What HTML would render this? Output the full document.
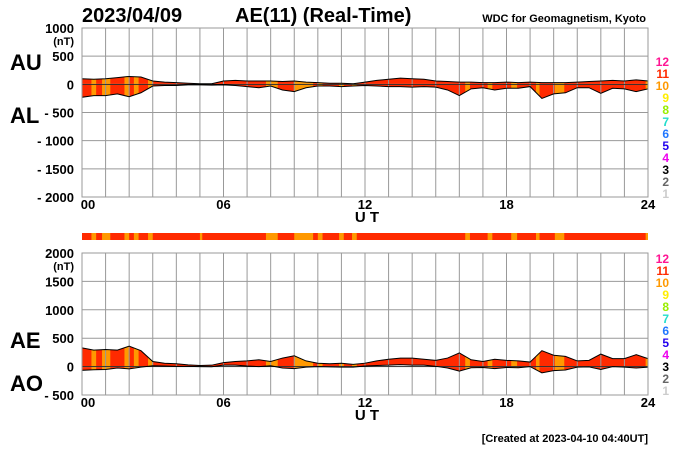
<!DOCTYPE html>
<html><head><meta charset="utf-8"><style>
body{margin:0;background:#fff;}
svg{display:block;font-family:"Liberation Sans",sans-serif;}
</style></head><body>
<svg id="c" width="700" height="450"></svg>
<script>
const hours=[0,0.5,1,1.5,2,2.5,3,3.5,4,4.5,5,5.5,6,6.5,7,7.5,8,8.5,9,9.5,10,10.5,11,11.5,12,12.5,13,13.5,14,14.5,15,15.5,16,16.5,17,17.5,18,18.5,19,19.5,20,20.5,21,21.5,22,22.5,23,23.5,24];
const auValues=[100,90,100,120,140,130,60,40,30,20,10,10,60,70,60,60,60,50,60,40,30,20,20,10,40,70,90,110,100,90,60,50,40,40,30,30,40,30,40,30,30,30,40,50,60,70,60,80,60];
const alValues=[-230,-200,-200,-170,-220,-150,-30,-20,-20,-10,-10,-15,-10,-20,-40,-60,-30,-100,-130,-60,-30,-30,-40,-30,-20,-30,-40,-40,-50,-40,-50,-100,-200,-80,-60,-100,-70,-70,-40,-250,-170,-150,-60,-60,-160,-70,-80,-130,-80];
const orangeStart=[0.4,0.85,1.8,2.2,2.8,5.0,7.8,9.0,10.0,10.9,11.45,16.25,17.2,18.2,19.25,20.05,23.9];
const orangeEnd=[0.6,1.2,2.0,2.4,3.0,5.1,8.3,9.8,10.2,11.1,11.65,16.45,17.4,18.45,19.4,20.45,24];
const topTicks=["1000","500","0","- 500","- 1000","- 1500","- 2000"];
const botTicks=["2000","1500","1000","500","0","- 500"];
const xTicks=["00","06","12","18","24"];
const legendNums=["12","11","10","9","8","7","6","5","4","3","2","1"];
const legendCols=["#ff1493","#ff2a00","#ff9900","#ffee00","#99ee00","#22ddcc","#2277ff","#2200ee","#ee00ee","#000","#666","#ccc"];

const NS="http://www.w3.org/2000/svg",svg=document.getElementById('c');
function el(t,a,p){const e=document.createElementNS(NS,t);for(const k in a)e.setAttribute(k,a[k]);(p||svg).appendChild(e);return e;}
function txt(s,x,y,size,anchor,fill,weight){const e=el('text',{x:x,y:y,'font-size':size,'text-anchor':anchor||'start',fill:fill||'#000','font-weight':weight||'bold'});e.textContent=s;return e;}
const X0=82,X1=648;
const xs=h=>X0+(X1-X0)*h/24;
const aeValues=auValues.map((u,i)=>u-alValues[i]);
const aoValues=auValues.map((u,i)=>(u+alValues[i])/2);

function panel(name,yTop,yBot,vmax,vmin,ticks,upper,lower){
  const ys=v=>yTop+(vmax-v)/(vmax-vmin)*(yBot-yTop);
  const g=el('g',{});
  
  
  const cid=name+'-clip';
  const cp=el('clipPath',{id:cid},g);
  let d='M'+xs(hours[0])+','+ys(upper[0]);
  for(let i=1;i<hours.length;i++)d+='L'+xs(hours[i])+','+ys(upper[i]);
  for(let i=hours.length-1;i>=0;i--)d+='L'+xs(hours[i])+','+ys(lower[i]);
  d+='Z';
  el('path',{d:d},cp);
  const fg=el('g',{'clip-path':'url(#'+cid+')'},g);
  const base=el('rect',{x:X0,y:yTop,width:X1-X0,height:yBot-yTop,fill:'#ff2a00'},fg);
  
  
  for(let i=0;i<orangeStart.length;i++){
    const r=el('rect',{x:xs(orangeStart[i]),y:yTop,width:xs(orangeEnd[i])-xs(orangeStart[i]),height:yBot-yTop,fill:'#ff9900'},fg);
    
    
  }
  for(let h=0;h<=24;h++)el('line',{x1:xs(h),x2:xs(h),y1:yTop,y2:yBot,stroke:'#999','stroke-width':1},g);
  ticks.forEach((t,i)=>{const y=yTop+i*(yBot-yTop)/(ticks.length-1);
    el('line',{x1:X0,x2:X1,y1:y,y2:y,stroke:'#999','stroke-width':1},g);
    const tl=txt(t,74,y+5,13,'end');});
  txt('(nT)',74,yTop+17,11,'end');
  el('path',{d:d,fill:'none',stroke:'#000','stroke-width':1},g);
  el('line',{x1:X0,x2:X1,y1:ys(0),y2:ys(0),stroke:'#000','stroke-width':0.6},g);
  el('rect',{x:X0,y:yTop,width:X1-X0,height:yBot-yTop,fill:'none',stroke:'#999'},g);
  xTicks.forEach((t,i)=>{const tl=txt(t,xs(i*6)+(i==0?6:0),yBot+12,13,'middle');});
  const ut=txt('U T',367,yBot+25,15,'middle');
  
  
}
txt('2023/04/09',82,22,20);
txt('AE(11) (Real-Time)',235,22,20);
txt('WDC for Geomagnetism, Kyoto',646,22,11,'end');
panel('au-al-panel',28,197,1000,-2000,topTicks,auValues,alValues);
panel('ae-ao-panel',253,395,2000,-500,botTicks,aeValues,aoValues);
txt('AU',10,70,22);txt('AL',10,123,22);txt('AE',10,348,22);txt('AO',10,391,22);
const cb=el('g',{});


el('rect',{x:X0,y:233,width:X1-X0,height:7,fill:'#ff2a00'},cb);
for(let i=0;i<orangeStart.length;i++)el('rect',{x:xs(orangeStart[i]),y:233,width:xs(orangeEnd[i])-xs(orangeStart[i]),height:7,fill:'#ff9900'},cb);
[[66],[263]].forEach(([y0])=>{legendNums.forEach((n,i)=>{const t=txt(n,669,y0+i*12,12,'end',legendCols[i]);});});
txt('[Created at 2023-04-10 04:40UT]',648,442,11,'end');
</script>
</body></html>
